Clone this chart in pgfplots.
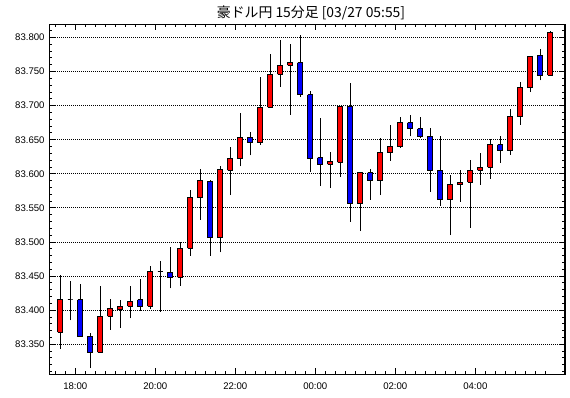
\documentclass[border=0pt]{standalone}
\usepackage{pgfplots}
\pgfplotsset{compat=1.18}
\usepackage{pgfplotstable}
\usepackage{fontspec}
\setmainfont{Liberation Sans}
\newfontfamily\cjk{Noto Sans CJK JP}
\definecolor{upred}{RGB}{255,0,0}
\definecolor{dnblue}{RGB}{0,0,255}
% u = position (15-min units from 18:00, candle centre), o h l c
\pgfplotstableread{
u o h l c
-1.5 83.368 83.452 83.343 83.415
-0.5 83.415 83.443 83.385 83.415
0.5 83.415 83.438 83.362 83.362
1.5 83.362 83.366 83.315 83.338
2.5 83.338 83.435 83.338 83.391
3.5 83.391 83.417 83.371 83.403
4.5 83.401 83.415 83.374 83.406
5.5 83.406 83.435 83.388 83.413
6.5 83.415 83.446 83.399 83.406
7.5 83.406 83.465 83.402 83.457
8.5 83.457 83.472 83.398 83.457
9.5 83.456 83.493 83.432 83.448
10.5 83.448 83.500 83.436 83.491
11.5 83.491 83.577 83.480 83.565
12.5 83.565 83.607 83.533 83.590
13.5 83.589 83.591 83.480 83.506
14.5 83.506 83.611 83.485 83.606
15.5 83.605 83.639 83.569 83.622
16.5 83.622 83.689 83.611 83.654
17.5 83.654 83.662 83.627 83.646
18.5 83.646 83.742 83.643 83.698
19.5 83.698 83.776 83.698 83.746
20.5 83.746 83.796 83.728 83.759
21.5 83.759 83.791 83.687 83.763
22.5 83.763 83.803 83.713 83.716
23.5 83.716 83.722 83.603 83.622
24.5 83.624 83.682 83.582 83.614
25.5 83.614 83.632 83.579 83.618
26.5 83.617 83.699 83.596 83.699
27.5 83.699 83.733 83.530 83.556
28.5 83.556 83.602 83.516 83.602
29.5 83.602 83.607 83.562 83.590
30.5 83.590 83.653 83.569 83.631
31.5 83.631 83.672 83.619 83.640
32.5 83.640 83.683 83.638 83.675
33.5 83.675 83.687 83.655 83.666
34.5 83.666 83.683 83.653 83.655
35.5 83.655 83.668 83.574 83.605
36.5 83.605 83.656 83.553 83.562
37.5 83.562 83.599 83.510 83.584
38.5 83.584 83.606 83.559 83.588
39.5 83.588 83.621 83.521 83.605
40.5 83.605 83.631 83.584 83.610
41.5 83.610 83.651 83.593 83.643
42.5 83.643 83.656 83.616 83.634
43.5 83.634 83.695 83.628 83.684
44.5 83.684 83.735 83.672 83.726
45.5 83.726 83.772 83.720 83.772
46.5 83.774 83.783 83.737 83.745
47.5 83.745 83.809 83.745 83.807
}\candles
\begin{document}
\begin{tikzpicture}
\begin{axis}[
  name=ax,
  at={(0,0)}, anchor=south west,
  scale only axis, width=386.8pt, height=262.5pt,
  xmin=-2.6, xmax=48.97, ymin=83.306, ymax=83.8194,
  axis line style={black, line width=0.9pt},
  tick style={black, line width=0.75pt},
  tick align=inside,
  major tick length=4.5pt, minor tick length=2.3pt,
  xtick={0,8,16,24,32,40},
  xticklabels={18:00,20:00,22:00,00:00,02:00,04:00},
  minor xtick={-2,-1,...,47},
  ytick={83.35,83.40,83.45,83.50,83.55,83.60,83.65,83.70,83.75,83.80},
  yticklabels={83.350,83.400,83.450,83.500,83.550,83.600,83.650,83.700,83.750,83.800},
  minor ytick={83.31,83.32,83.33,83.34,83.36,83.37,83.38,83.39,83.41,83.42,83.43,83.44,83.46,83.47,83.48,83.49,83.51,83.52,83.53,83.54,83.56,83.57,83.58,83.59,83.61,83.62,83.63,83.64,83.66,83.67,83.68,83.69,83.71,83.72,83.73,83.74,83.76,83.77,83.78,83.79,83.81},
  scaled y ticks=false,
  ymajorgrids,
  major grid style={black, line width=0.75pt, dash pattern=on 0.75pt off 0.75pt},
  ticklabel style={font=\fontsize{7.2}{8}\selectfont},
  xticklabel style={yshift=-3pt},
]
\pgfplotstablegetrowsof{\candles}
\pgfmathtruncatemacro\lastrow{\pgfplotsretval-1}
\pgfplotsforeachungrouped \i in {0,...,\lastrow}{%
  \pgfplotstablegetelem{\i}{u}\of\candles \let\U\pgfplotsretval
  \pgfplotstablegetelem{\i}{o}\of\candles \let\O\pgfplotsretval
  \pgfplotstablegetelem{\i}{h}\of\candles \let\H\pgfplotsretval
  \pgfplotstablegetelem{\i}{l}\of\candles \let\L\pgfplotsretval
  \pgfplotstablegetelem{\i}{c}\of\candles \let\C\pgfplotsretval
  \pgfmathsetmacro\xa{\U-0.26}%
  \pgfmathsetmacro\xb{\U+0.26}%
  \ifdim\C pt>\O pt
    \def\col{upred}%
  \else
    \ifdim\C pt<\O pt
      \def\col{dnblue}%
    \else
      \def\col{black}%
    \fi
  \fi
  \edef\doplot{%
    \noexpand\addplot[black, line width=0.75pt, forget plot] coordinates {(\U,\L) (\U,\H)};
    \noexpand\addplot[draw=black, fill=\col, line width=0.75pt, forget plot, line join=miter]
      coordinates {(\xa,\O) (\xb,\O) (\xb,\C) (\xa,\C) (\xa,\O)};}%
  \doplot
}
\end{axis}
\node[font=\cjk\fontsize{10.4}{11}\selectfont, inner sep=0pt, anchor=center]
  at ([xshift=2.9pt, yshift=8.85pt]ax.north) {豪ドル円 15分足 [03/27 05:55]};
\pgfresetboundingbox
\useasboundingbox (-36.975pt,-17.775pt) rectangle (390.525pt,280.725pt);
\end{tikzpicture}
\end{document}
